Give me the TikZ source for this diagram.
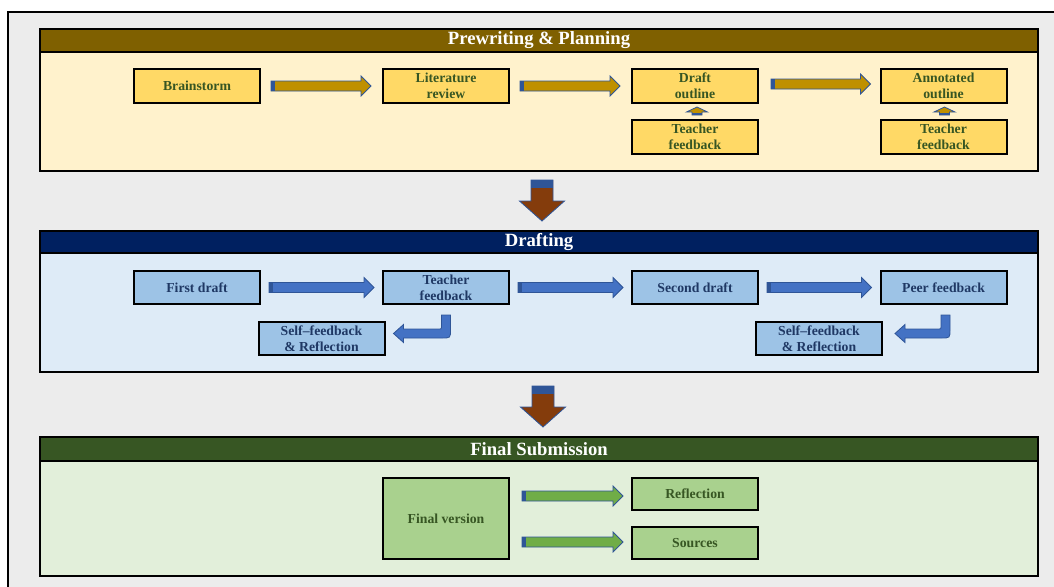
\documentclass[tikz,border=0pt]{standalone}
\usepackage{fontspec}
\setmainfont{Liberation Serif}
\usetikzlibrary{calc}
\definecolor{outergray}{HTML}{ECECEC}
\definecolor{goldhdr}{HTML}{7F6000}
\definecolor{goldbody}{HTML}{FFF2CC}
\definecolor{goldbox}{HTML}{FFD966}
\definecolor{goldarr}{HTML}{BF9000}
\definecolor{bluehdr}{HTML}{002060}
\definecolor{bluebody}{HTML}{DEEBF7}
\definecolor{bluebox}{HTML}{9DC3E6}
\definecolor{bluearr}{HTML}{4472C4}
\definecolor{greenhdr}{HTML}{375623}
\definecolor{greenbody}{HTML}{E2EFDA}
\definecolor{greenbox}{HTML}{A9D18E}
\definecolor{greenarr}{HTML}{70AD47}
\definecolor{brownarr}{HTML}{843C0C}
\definecolor{arrline}{HTML}{2F5597}
\definecolor{txtgreen}{HTML}{375623}
\definecolor{txtnavy}{HTML}{1F3864}
\def\u{0.75pt}
\tikzset{%
	body/.style={draw, line width=1.5pt, inner sep=0pt, minimum width=998*\u},
	hdr/.style={body, text=white, font=\fontsize{14}{16}\selectfont\bfseries},
	box/.style={draw, line width=1.5pt, inner sep=0pt, align=center,%
		minimum width=126*\u, minimum height=34*\u,%
		font=\fontsize{10.3}{12}\selectfont\bfseries},
	gbox/.style={box, fill=goldbox, text=txtgreen},
	bbox/.style={box, fill=bluebox, text=txtnavy},
	vbox/.style={box, fill=greenbox, text=txtgreen},
	blockarr/.style={draw=arrline, line width=0.6pt}
}
% block arrows: #1 fill, #2 tail, #3 tip
\newcommand{\rarrow}[3]{%
	\path (#2) coordinate (s) (#3) coordinate (t);
	\filldraw[blockarr, fill=#1] ($(s)+(0,-5)$) -- ($(t)+(-10,-5)$) -- ($(t)+(-10,-10)$) -- (t)
		-- ($(t)+(-10,10)$) -- ($(t)+(-10,5)$) -- ($(s)+(0,5)$) -- cycle;
	\fill[arrline] ($(s)+(0,-5)$) rectangle ($(s)+(4,5)$);
}
\newcommand{\uarrow}[3]{%
	\path (#2) coordinate (s) (#3) coordinate (t);
	\filldraw[blockarr, fill=#1] ($(s)+(-5,0)$) -- ($(t)+(-5,5)$) -- ($(t)+(-10.5,5)$) -- (t)
		-- ($(t)+(10.5,5)$) -- ($(t)+(5,5)$) -- ($(s)+(5,0)$) -- cycle;
	\fill[arrline] ($(s)+(-5,-2)$) rectangle ($(s)+(5,0)$);
}
\newcommand{\darrow}[3]{%
	\path (#2) coordinate (s) (#3) coordinate (t);
	\filldraw[blockarr, fill=#1] ($(s)+(-11,0)$) -- ($(t)+(-11,-20)$) -- ($(t)+(-22.5,-20)$) -- (t)
		-- ($(t)+(22.5,-20)$) -- ($(t)+(11,-20)$) -- ($(s)+(11,0)$) -- cycle;
	\fill[arrline] ($(s)+(-11,0)$) rectangle ($(s)+(11,8)$);
}
\newcommand{\barrow}[3]{%
	\path (#2) coordinate (s) (#3) coordinate (t);
	\filldraw[blockarr, fill=#1] ($(s)+(-4.5,0)$) -- ($(s)+(4.5,0)$) -- ($(s|-t)+(4.5,-4)$)
		.. controls ($(s|-t)+(4.5,4.5)$) .. ($(s|-t)+(-4,4.5)$) -- ($(t)+(10,4.5)$)
		-- ($(t)+(10,9)$) -- (t) -- ($(t)+(10,-9)$) -- ($(t)+(10,-4.5)$)
		-- ($(s|-t)+(-6.5,-4.5)$) .. controls ($(s|-t)+(-4.5,-4.5)$) .. ($(s|-t)+(-4.5,-6.5)$) -- cycle;
}

\begin{document}
\begin{tikzpicture}[x=0.75pt, y=-0.75pt]
	\useasboundingbox (0,0) rectangle (1054,586);
	\clip (0,0) rectangle (1054,586);
	\draw[line width=1.5pt, fill=outergray] (8,12) rectangle (1080,610);

	% Prewriting & Planning
	\node[body, fill=goldbody, minimum height=119*\u] (b1) at (539,111.5) {};
	\node[hdr, fill=goldhdr, minimum height=23*\u] (h1) at (539,40.5) {Prewriting \& Planning};
	\node[gbox] (brain) at (197,86)   {Brainstorm};
	\node[gbox] (lit)   at (446,86)   {Literature\\review};
	\node[gbox] (dout)  at (695,86)   {Draft\\outline};
	\node[gbox] (aout)  at (943.5,86) {Annotated\\outline};
	\node[gbox] (tf1)   at (695,137)  {Teacher\\feedback};
	\node[gbox] (tf2)   at (943.5,137) {Teacher\\feedback};
	\rarrow{goldarr}{$(brain.east)+(10,0)$}{$(lit.west)+(-11,0)$}
	\rarrow{goldarr}{$(lit.east)+(10,0)$}{$(dout.west)+(-11,0)$}
	\rarrow{goldarr}{$(dout.east)+(12,-2)$}{$(aout.west)+(-9,-2)$}
	\uarrow{goldarr}{$(tf1.north)+(2,-4)$}{$(dout.south)+(2,3)$}
	\uarrow{goldarr}{$(tf2.north)+(1,-4)$}{$(aout.south)+(1,3)$}

	% Drafting
	\node[body, fill=bluebody, minimum height=119*\u] (b2) at (539,312.5) {};
	\node[hdr, fill=bluehdr, minimum height=22*\u] (h2) at (539,242) {Drafting};
	\node[bbox, minimum height=33*\u] (fd)  at (197,287.5)   {First draft};
	\node[bbox, minimum height=33*\u] (tfd) at (446,287.5)   {Teacher\\feedback};
	\node[bbox, minimum height=33*\u] (sd)  at (695,287.5)   {Second draft};
	\node[bbox, minimum height=33*\u] (pf)  at (943.5,287.5) {Peer feedback};
	\node[bbox, minimum height=33*\u] (sf1) at (321.5,338.5)  {Self--feedback\\\& Reflection};
	\node[bbox, minimum height=33*\u] (sf2) at (819,338.5)    {Self--feedback\\\& Reflection};
	\rarrow{bluearr}{$(fd.east)+(8,0)$}{$(tfd.west)+(-8,0)$}
	\rarrow{bluearr}{$(tfd.east)+(8,0)$}{$(sd.west)+(-8,0)$}
	\rarrow{bluearr}{$(sd.east)+(8,0)$}{$(pf.west)+(-8,0)$}
	\barrow{bluearr}{$(tfd.south)+(0,10)$}{$(sf1.east)+(8,-5)$}
	\barrow{bluearr}{$(pf.south)+(2,10)$}{$(sf2.east)+(12,-5)$}
	\darrow{brownarr}{$(b1.south)+(3,8)$}{$(h2.north)+(3,-9)$}

	% Final Submission
	\node[body, fill=greenbody, minimum height=115*\u] (b3) at (539,518.5) {};
	\node[hdr, fill=greenhdr, minimum height=24*\u] (h3) at (539,449) {Final Submission};
	\node[vbox, minimum height=81*\u] (fv)   at (446,518.5) {Final version};
	\node[vbox, minimum height=32*\u] (refl) at (695,494)   {Reflection};
	\node[vbox, minimum height=32*\u] (src)  at (695,543)   {Sources};
	\rarrow{greenarr}{$(fv.east|-refl.west)+(12,2)$}{$(refl.west)+(-8,2)$}
	\rarrow{greenarr}{$(fv.east|-src.west)+(12,-1)$}{$(src.west)+(-8,-1)$}
	\darrow{brownarr}{$(b2.south)+(4,13)$}{$(h3.north)+(4,-9)$}
\end{tikzpicture}
\end{document}
